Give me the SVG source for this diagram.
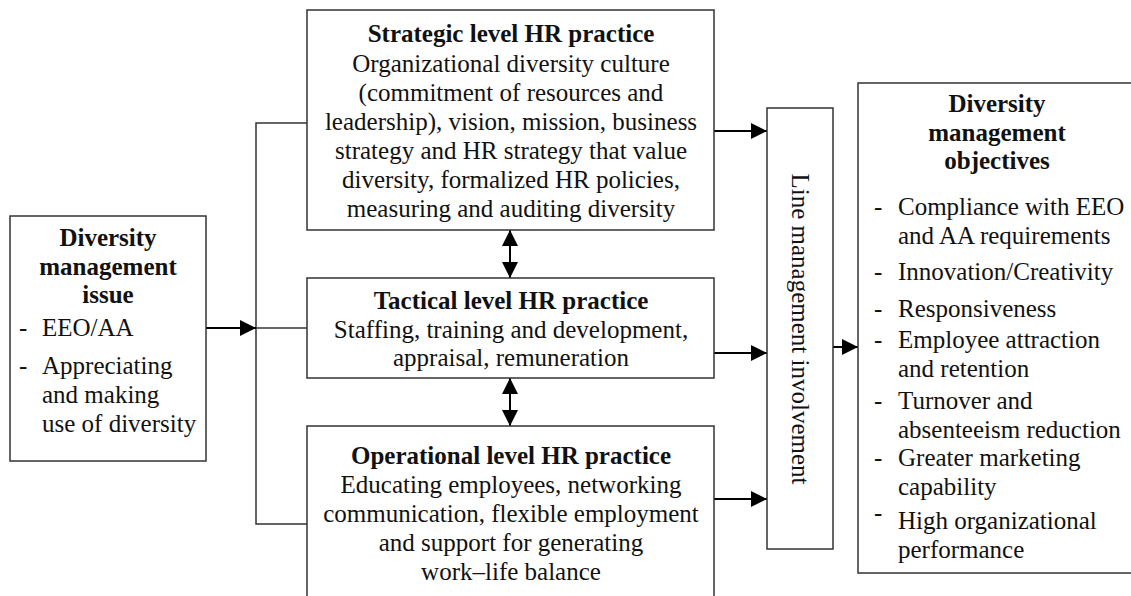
<svg xmlns="http://www.w3.org/2000/svg" width="1131" height="596" viewBox="0 0 1131 596">
<defs>
<marker id="ahb" viewBox="0 0 16 16" refX="16" refY="8" markerWidth="16" markerHeight="16" markerUnits="userSpaceOnUse" orient="auto-start-reverse">
<path d="M0,0 L16,8 L0,16 Z" fill="#000"/>
</marker>
</defs>
<style>
.box{fill:#fff;stroke:#333;stroke-width:1.5}
.t{font-family:"Liberation Serif","Times New Roman",serif;font-size:25px;fill:#111}
.b{font-weight:bold}
.m{text-anchor:middle}
.ln{stroke:#333;stroke-width:1.5;fill:none}
.ar{stroke:#000;stroke-width:2;fill:none}
</style>
<rect width="1131" height="596" fill="#fff"/>
<g id="connectors">
<polyline class="ln" points="307,123 256,123 256,524 307,524"/>
<line class="ln" x1="256" y1="328" x2="307" y2="328"/>
<line class="ar" x1="206" y1="328" x2="256" y2="328" marker-end="url(#ahb)"/>
<line class="ar" x1="714" y1="131" x2="767" y2="131" marker-end="url(#ahb)"/>
<line class="ar" x1="714" y1="353" x2="767" y2="353" marker-end="url(#ahb)"/>
<line class="ar" x1="714" y1="499" x2="767" y2="499" marker-end="url(#ahb)"/>
<line class="ar" x1="833" y1="347" x2="858" y2="347" marker-end="url(#ahb)"/>
<line class="ar" x1="510" y1="230" x2="510" y2="278" marker-start="url(#ahb)" marker-end="url(#ahb)"/>
<line class="ar" x1="510" y1="378" x2="510" y2="426" marker-start="url(#ahb)" marker-end="url(#ahb)"/>
</g>
<g id="issue">
<rect class="box" x="10" y="216" width="196" height="245"/>
<text class="t b m" x="108" y="246">Diversity</text>
<text class="t b m" x="108" y="275">management</text>
<text class="t b m" x="108" y="303">issue</text>
<text class="t" x="19" y="336">-</text>
<text class="t" x="42" y="336">EEO/AA</text>
<text class="t" x="19" y="374">-</text>
<text class="t" x="42" y="374">Appreciating</text>
<text class="t" x="42" y="403">and making</text>
<text class="t" x="42" y="432">use of diversity</text>
</g>
<g id="strategic">
<rect class="box" x="307" y="10" width="407" height="220"/>
<text class="t b m" x="511" y="42">Strategic level HR practice</text>
<text class="t m" x="511" y="72">Organizational diversity culture</text>
<text class="t m" x="511" y="101">(commitment of resources and</text>
<text class="t m" x="511" y="130">leadership), vision, mission, business</text>
<text class="t m" x="511" y="159">strategy and HR strategy that value</text>
<text class="t m" x="511" y="188">diversity, formalized HR policies,</text>
<text class="t m" x="511" y="217">measuring and auditing diversity</text>
</g>
<g id="tactical">
<rect class="box" x="307" y="278" width="407" height="100"/>
<text class="t b m" x="511" y="309">Tactical level HR practice</text>
<text class="t m" x="511" y="338">Staffing, training and development,</text>
<text class="t m" x="511" y="366">appraisal, remuneration</text>
</g>
<g id="operational">
<rect class="box" x="307" y="426" width="407" height="176"/>
<text class="t b m" x="511" y="464">Operational level HR practice</text>
<text class="t m" x="511" y="493">Educating employees, networking</text>
<text class="t m" x="511" y="522">communication, flexible employment</text>
<text class="t m" x="511" y="551">and support for generating</text>
<text class="t m" x="511" y="580">work–life balance</text>
</g>
<g id="line-management">
<rect class="box" x="767" y="108" width="66" height="441"/>
<text class="t m" transform="translate(800,329) rotate(90)" x="0" y="8">Line management involvement</text>
</g>
<g id="objectives">
<rect class="box" x="858" y="83" width="276" height="490"/>
<text class="t b m" x="997" y="112">Diversity</text>
<text class="t b m" x="997" y="141">management</text>
<text class="t b m" x="997" y="169">objectives</text>
<text class="t" x="874" y="215">-</text>
<text class="t" x="898" y="215">Compliance with EEO</text>
<text class="t" x="898" y="244">and AA requirements</text>
<text class="t" x="874" y="280">-</text>
<text class="t" x="898" y="280">Innovation/Creativity</text>
<text class="t" x="874" y="317">-</text>
<text class="t" x="898" y="317">Responsiveness</text>
<text class="t" x="874" y="348">-</text>
<text class="t" x="898" y="348">Employee attraction</text>
<text class="t" x="898" y="377">and retention</text>
<text class="t" x="874" y="409">-</text>
<text class="t" x="898" y="409">Turnover and</text>
<text class="t" x="898" y="438">absenteeism reduction</text>
<text class="t" x="874" y="466">-</text>
<text class="t" x="898" y="466">Greater marketing</text>
<text class="t" x="898" y="495">capability</text>
<text class="t" x="874" y="521">-</text>
<text class="t" x="898" y="529">High organizational</text>
<text class="t" x="898" y="558">performance</text>
</g>
</svg>
